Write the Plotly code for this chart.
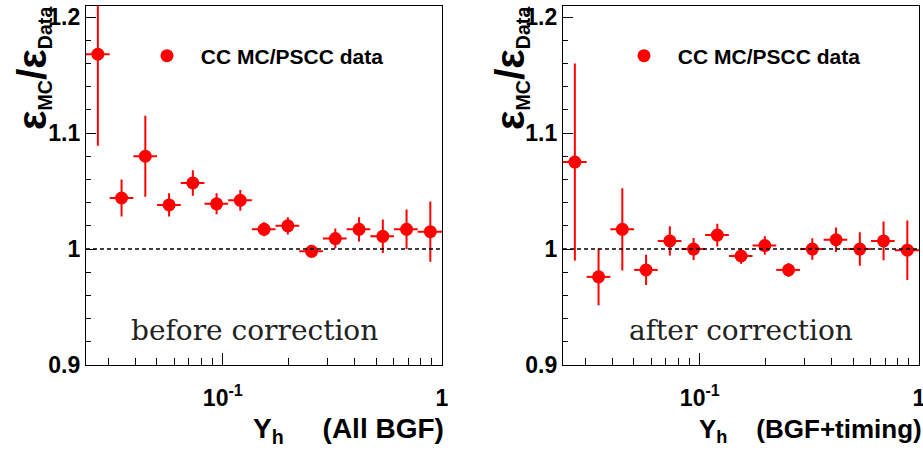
import plotly.graph_objects as go

# ---- data ----
yh_edges = [0.02377, 0.03048, 0.03910, 0.05014, 0.06431, 0.08249, 0.10580, 0.13569,
            0.17404, 0.22322, 0.28630, 0.36720, 0.47098, 0.60406, 0.77476, 1.0]
yh_centers = [0.02692, 0.03453, 0.04432, 0.05689, 0.07300, 0.09369, 0.1202, 0.1543,
              0.1980, 0.2541, 0.3261, 0.4184, 0.5370, 0.6892, 0.8845]

ratio_before = [1.168, 1.044, 1.080, 1.038, 1.057, 1.039, 1.042, 1.017,
                1.020, 0.998, 1.009, 1.017, 1.011, 1.017, 1.015]
err_before = [0.079, 0.016, 0.035, 0.010, 0.011, 0.009, 0.009, 0.006,
              0.0075, 0.0055, 0.0086, 0.0105, 0.0145, 0.017, 0.026]

ratio_after = [1.075, 0.976, 1.017, 0.982, 1.007, 1.000, 1.012, 0.994,
               1.003, 0.982, 1.000, 1.008, 1.000, 1.007, 0.999]
err_after = [0.085, 0.0245, 0.0355, 0.013, 0.0126, 0.0095, 0.0098, 0.0068,
             0.008, 0.006, 0.0093, 0.0105, 0.0144, 0.0167, 0.0257]

legend_label = "&nbsp;CC MC/PSCC data"
panel_labels = ["before correction", "after correction"]
x_titles = ["Y<sub>h</sub>" + "&nbsp;" * 5 + "(All BGF)",
            "Y<sub>h</sub>" + "&nbsp;" * 4 + "(BGF+timing)"]
y_title = ('<span style="font-size:41px">ε</span><sub>MC</sub>'
           '<span style="font-size:41px">/ε</span><sub>Data</sub>')
x_major_ticks = [0.1, 1]
x_major_text = ["10<sup>-1</sup>", "1"]
x_minor_ticks = [0.03, 0.04, 0.05, 0.06, 0.07, 0.08, 0.09, 0.2, 0.3, 0.4, 0.5, 0.6, 0.7, 0.8, 0.9]
y_major_ticks = [0.9, 1.0, 1.1, 1.2]
y_major_text = ["0.9", "1", "1.1", "1.2"]

RED = "#ff0000"
FONT = "Liberation Sans"
W, H = 923, 458

err_plus = [e - c for c, e in zip(yh_centers, yh_edges[1:])]
err_minus = [c - e for c, e in zip(yh_centers, yh_edges[:-1])]

fig = go.Figure()
for i, (vals, errs) in enumerate([(ratio_before, err_before), (ratio_after, err_after)]):
    xa = "x" if i == 0 else "x2"
    ya = "y" if i == 0 else "y2"
    fig.add_trace(go.Scatter(
        x=yh_centers, y=vals, mode="markers", name=legend_label,
        xaxis=xa, yaxis=ya, legend="legend" if i == 0 else "legend2",
        marker=dict(color=RED, size=13),
        error_y=dict(type="data", array=errs, color=RED, thickness=2, width=0),
        error_x=dict(type="data", symmetric=False, array=err_plus, arrayminus=err_minus,
                     color=RED, thickness=2, width=0),
    ))

px_l = [86, 563]
px_r = [442, 919]
top_px, bot_px = 5.5, 365
ydom = [1 - bot_px / H, 1 - top_px / H]

axis_common = dict(showgrid=False, zeroline=False, showline=True, linecolor="black",
                   linewidth=1.3, mirror=True, ticks="inside", tickcolor="black",
                   automargin=False,
                   tickfont=dict(family=FONT, size=23, color="black", weight="bold"))

for i in range(2):
    sfx = "" if i == 0 else "2"
    fig.update_layout(**{
        "xaxis" + sfx: dict(axis_common, type="log", domain=[px_l[i] / W, px_r[i] / W],
                            range=[-1.624, 0], anchor="y" + sfx,
                            tickvals=x_major_ticks, ticktext=x_major_text, ticklen=12,
                            ticklabelstandoff=12, ticklabeloverflow="allow",
                            minor=dict(tickvals=x_minor_ticks, ticks="inside", ticklen=7,
                                       tickcolor="black", showgrid=False)),
        "yaxis" + sfx: dict(axis_common, domain=ydom, range=[0.9, 1.21], anchor="x" + sfx,
                            tickvals=y_major_ticks, ticktext=y_major_text, ticklen=10,
                            ticklabelstandoff=0,
                            minor=dict(dtick=0.02, tick0=0.9, ticks="inside", ticklen=5,
                                       tickcolor="black", showgrid=False)),
    })
    # reference line at 1
    fig.add_shape(type="line", xref="x" + sfx + " domain", yref="y" + sfx,
                  x0=0, x1=1, y0=1, y1=1,
                  line=dict(color="black", width=1.6, dash="4px,3px"))
    # panel label
    fig.add_annotation(text=panel_labels[i], xref="paper", yref="paper",
                       x=[255, 741][i] / W, y=1 - 330 / H, showarrow=False,
                       xanchor="center", yanchor="middle",
                       font=dict(family="DejaVu Serif", size=28, color="#222222"))
    # x title
    fig.add_annotation(text=x_titles[i], xref="paper", yref="paper",
                       x=[446, 924][i] / W, y=1 - 430 / H, xanchor="right", yanchor="middle",
                       showarrow=False,
                       font=dict(family=FONT, size=[28, 26][i], color="black", weight="bold"))
    # y title
    fig.add_annotation(text=y_title, xref="paper", yref="paper",
                       x=[32, 510][i] / W, y=1 - 68 / H, textangle=-90,
                       xanchor="center", yanchor="middle", showarrow=False,
                       font=dict(family=FONT, size=28, color="black", weight="bold"))

leg_common = dict(bgcolor="rgba(0,0,0,0)", borderwidth=0,
                  font=dict(family=FONT, size=21, color="black", weight="bold"),
                  xanchor="left", yanchor="middle", itemwidth=46)
fig.update_layout(
    legend=dict(leg_common, x=139 / W, y=1 - 56 / H),
    legend2=dict(leg_common, x=(139 + 477) / W, y=1 - 56 / H),
    width=W, height=H, margin=dict(l=0, r=0, t=0, b=0),
    paper_bgcolor="white", plot_bgcolor="white", showlegend=True,
)

fig.write_html("out.html", config={"displayModeBar": False},
               post_script="document.body.style.margin='0';"
                           "document.documentElement.style.overflow='hidden';")
